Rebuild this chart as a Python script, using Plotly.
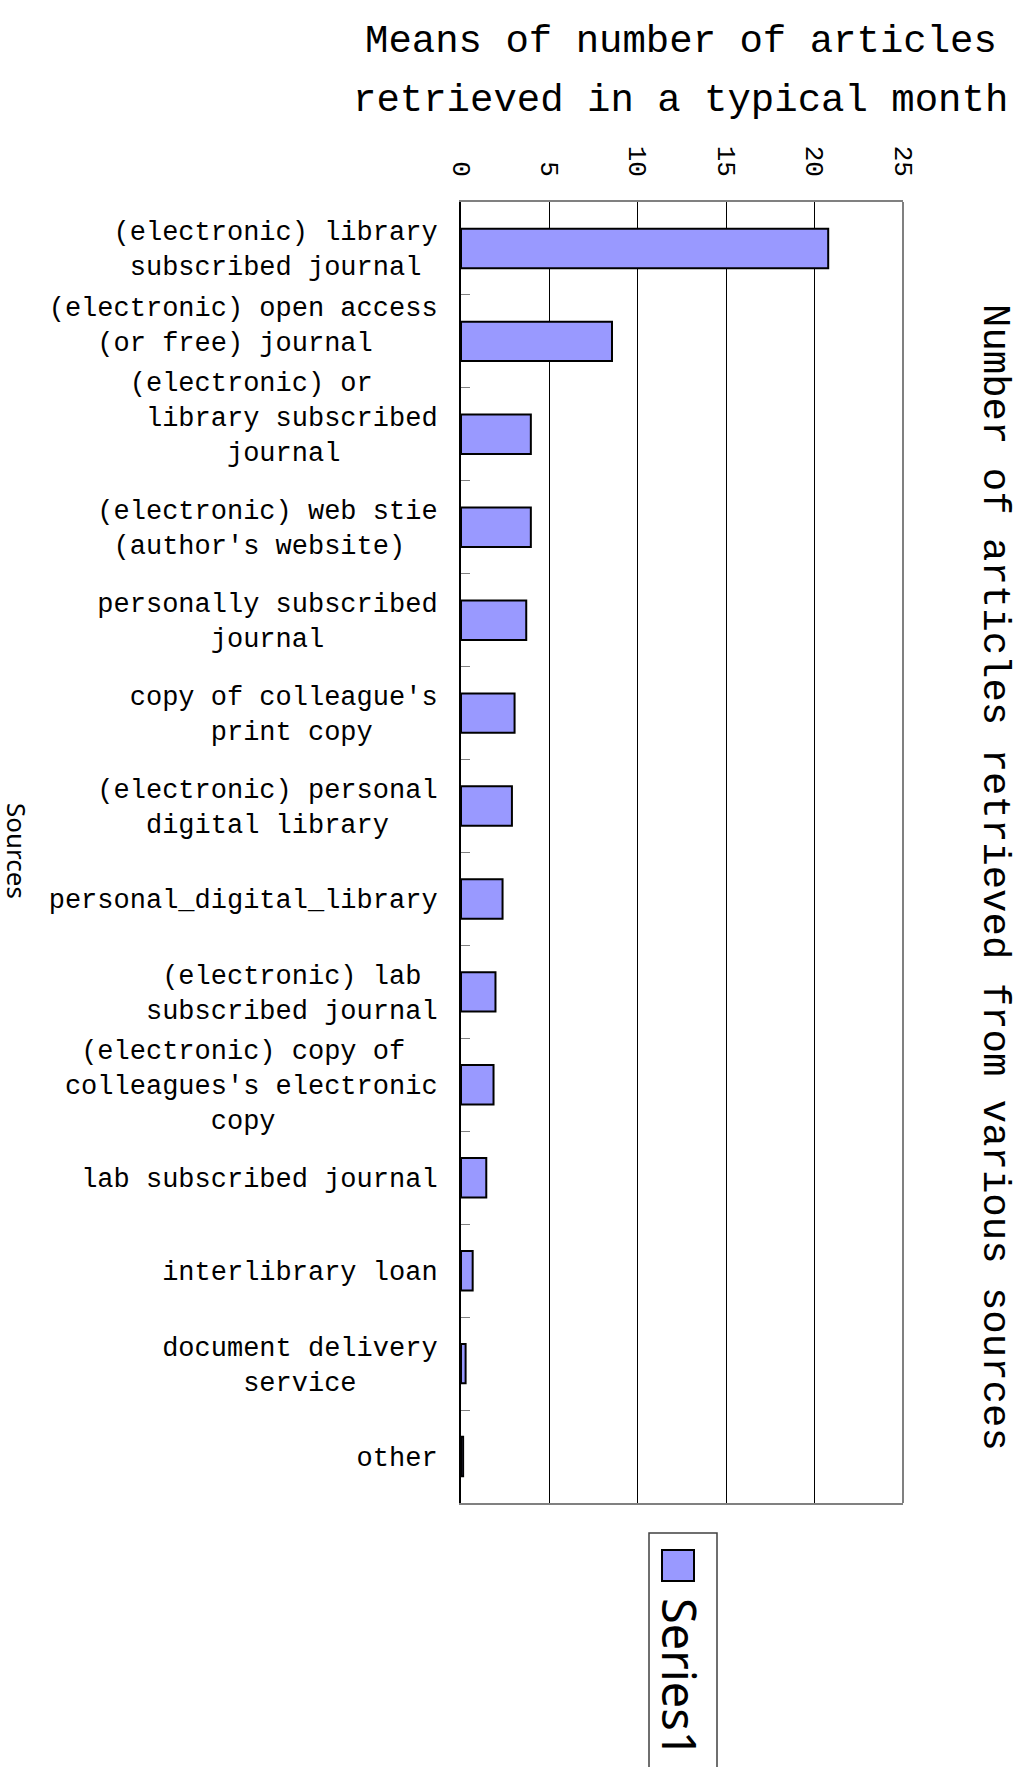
import plotly.graph_objects as go

# ---------------- data ----------------
categories = [
    "(electronic) library subscribed journal",
    "(electronic) open access (or free) journal",
    "(electronic) or library subscribed journal",
    "(electronic) web stie (author's website)",
    "personally subscribed journal",
    "copy of colleague's print copy",
    "(electronic) personal digital library",
    "personal_digital_library",
    "(electronic) lab subscribed journal",
    "(electronic) copy of colleagues's electronic copy",
    "lab subscribed journal",
    "interlibrary loan",
    "document delivery service",
    "other",
]
values = [20.77, 8.54, 3.95, 3.95, 3.69, 3.03, 2.88, 2.35, 1.95, 1.84, 1.43, 0.66, 0.26, 0.12]

NB = "\u00a0"
tick_labels = [
    "(electronic) library<br>subscribed journal" + NB,
    "(electronic) open access<br>(or free) journal" + NB * 4 + "<br>" + NB,
    "(electronic) or" + NB * 4 + "<br>library subscribed<br>journal" + NB * 6 + "<br>" + NB,
    "(electronic) web stie<br>(author's website)" + NB * 2,
    "personally subscribed<br>journal" + NB * 7,
    "copy of colleague's<br>print copy" + NB * 4,
    "(electronic) personal<br>digital library" + NB * 3,
    "personal_digital_library",
    "(electronic) lab" + NB + "<br>subscribed journal",
    "(electronic) copy of" + NB * 2 + "<br>colleagues's electronic<br>copy" + NB * 10,
    "lab subscribed journal",
    "interlibrary loan",
    "document delivery<br>service" + NB * 5,
    "other",
]
x_ticks = [0, 5, 10, 15, 20, 25]
series_name = "Series1"
title_lines = ["Means of number of articles", "retrieved in a typical month"]
value_axis_title = "Number of articles retrieved from various sources"
category_axis_title = "Sources"

# ---------------- layout geometry ----------------
W, H = 1017, 1767
L, R, T, B = 461, 114, 202, 264
PW, PH = W - L - R, H - T - B


def px(xp):
    return (xp - L) / PW


def py(yp):
    return 1 - (yp - T) / PH


BAR_COLOR = "#9999FF"
MONO = "Liberation Mono"

fig = go.Figure()
fig.add_trace(go.Bar(
    x=values,
    y=categories,
    orientation="h",
    name=series_name,
    marker=dict(color=BAR_COLOR, line=dict(color="black", width=2)),
    showlegend=False,
))

fig.update_layout(
    width=W, height=H,
    margin=dict(l=L, r=R, t=T, b=B, autoexpand=False),
    paper_bgcolor="white",
    plot_bgcolor="white",
    bargap=0.576,
    xaxis=dict(
        side="top",
        range=[0, 25],
        tickvals=x_ticks,
        ticktext=[str(v) for v in x_ticks],
        tickangle=90,
        tickfont=dict(family=MONO, size=26, color="black"),
        ticks="",
        ticklabelstandoff=14,
        showgrid=True, gridcolor="black", gridwidth=1,
        showline=True, linecolor="#808080", linewidth=2, mirror=True,
        zeroline=False,
        fixedrange=True,
    ),
    yaxis=dict(
        type="category",
        categoryorder="array",
        categoryarray=categories,
        autorange="reversed",
        tickvals=categories,
        ticktext=tick_labels,
        tickson="boundaries",
        ticks="inside", ticklen=9, tickcolor="#808080", tickwidth=1,
        tickfont=dict(family=MONO, size=27, color="black"),
        ticklabelstandoff=16,
        showgrid=False,
        showline=True, linecolor="black", linewidth=2,
        zeroline=False,
    ),
)

# chart title (two lines)
for line, ycen, xcen in zip(title_lines, [42, 101], [681, 680]):
    fig.add_annotation(
        text=line, xref="paper", yref="paper",
        x=px(xcen), y=py(ycen), xanchor="center", yanchor="middle",
        showarrow=False,
        font=dict(family=MONO, size=39, color="black"),
    )

# right frame edge
fig.add_shape(type="line", xref="paper", yref="paper", x0=1, x1=1, y0=0, y1=1,
              line=dict(color="#808080", width=2))

# value axis title (right side, rotated)
fig.add_annotation(
    text=value_axis_title, xref="paper", yref="paper",
    x=px(994), y=py(877), xanchor="center", yanchor="middle",
    textangle=90, showarrow=False,
    font=dict(family=MONO, size=39, color="black"),
)

# category axis title (left side, rotated)
fig.add_annotation(
    text=category_axis_title, xref="paper", yref="paper",
    x=px(17), y=py(851), xanchor="center", yanchor="middle",
    textangle=90, showarrow=False,
    font=dict(family="Noto Sans", size=26, color="black"),
)

# legend box (rotated, drawn manually)
fig.add_shape(type="rect", xref="paper", yref="paper",
              x0=px(649), x1=px(717), y0=py(1533), y1=py(1790),
              line=dict(color="#404040", width=1.5), fillcolor="white")
fig.add_shape(type="rect", xref="paper", yref="paper",
              x0=px(662), x1=px(694), y0=py(1550), y1=py(1581),
              line=dict(color="black", width=2), fillcolor=BAR_COLOR)
fig.add_annotation(
    text=series_name, xref="paper", yref="paper",
    x=px(680), y=py(1678), xanchor="center", yanchor="middle",
    textangle=90, showarrow=False,
    font=dict(family="Noto Sans", size=47, color="black"),
)

fig.write_html("out.html", config={"displayModeBar": False},
               post_script="document.body.style.margin='0';")
